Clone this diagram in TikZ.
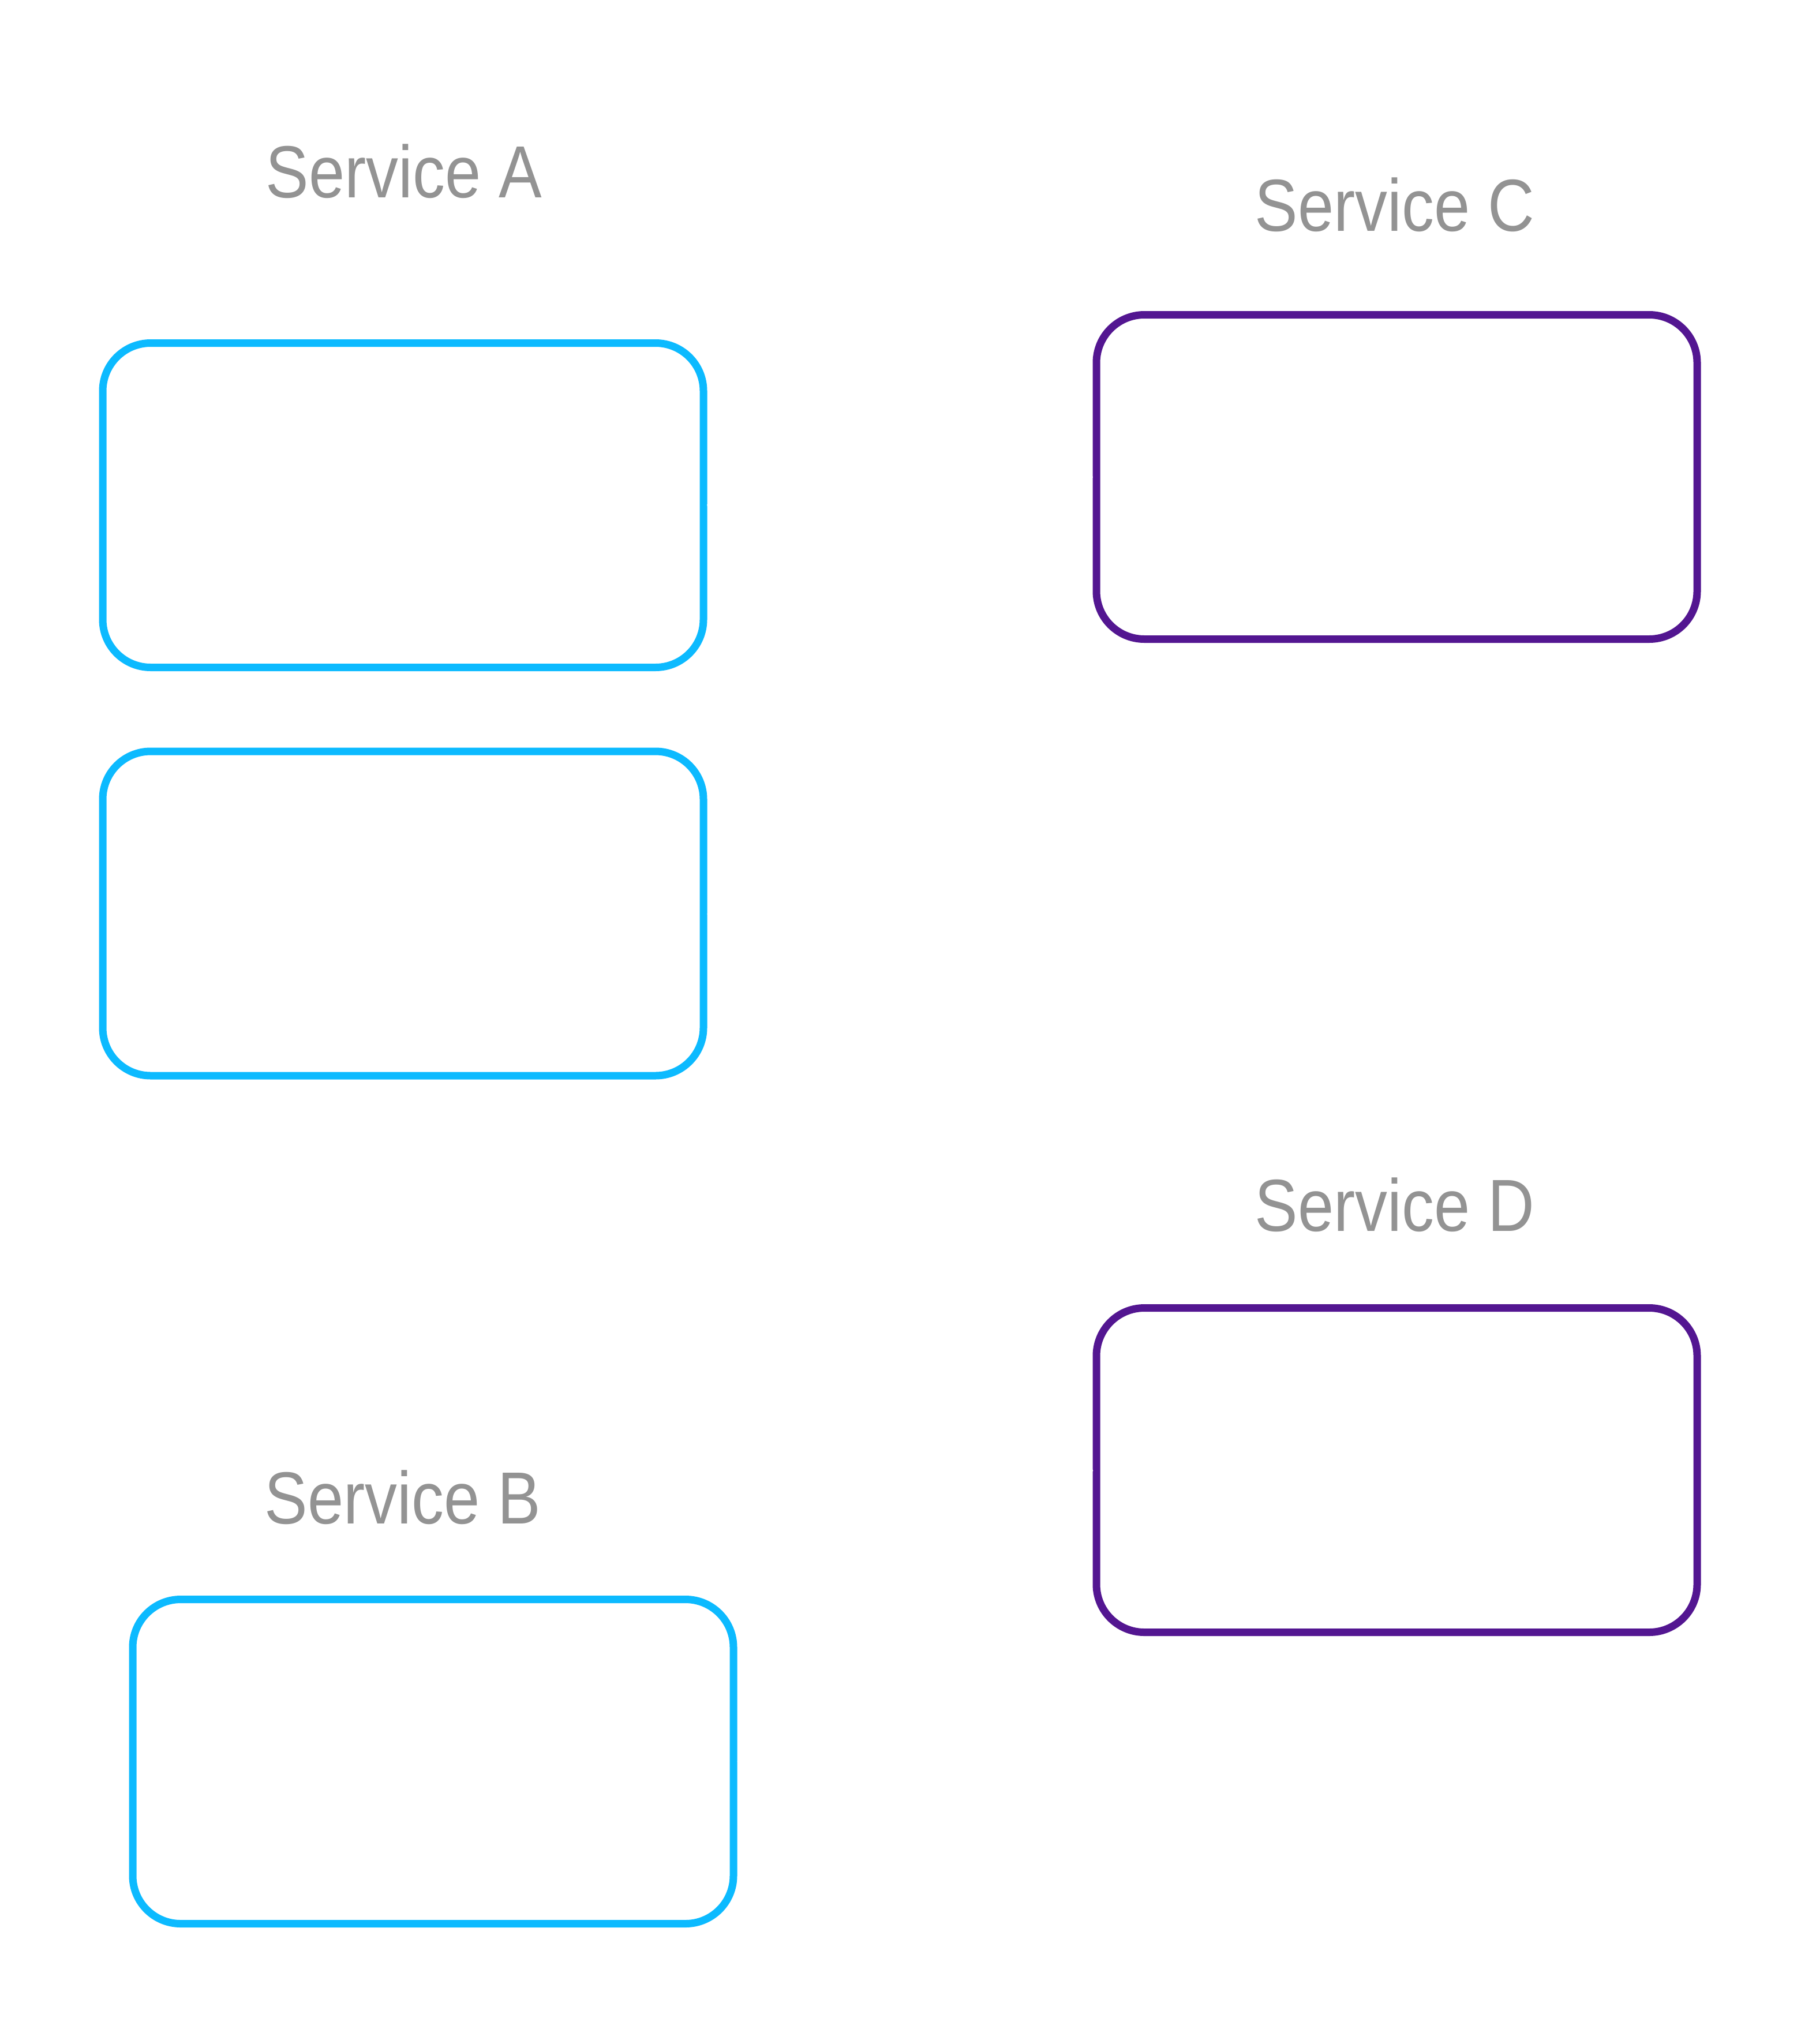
\documentclass[tikz,border=0pt]{standalone}
\usepackage{fontspec}
\setmainfont{Liberation Sans}
\usetikzlibrary{arrows.meta}
\definecolor{svcblue}{RGB}{12,186,255}
\definecolor{svcpurple}{RGB}{83,22,145}
\definecolor{labelgray}{RGB}{147,147,147}
\begin{document}
\begin{tikzpicture}
\tikzset{
  svcbox/.style={draw, line width=0.13cm, rounded corners=0.83cm, minimum width=10.41cm, minimum height=5.62cm, inner sep=0pt, fill=none},
  bluebox/.style={svcbox, draw=svcblue},
  purplebox/.style={svcbox, draw=svcpurple},
  svclabel/.style={text=labelgray, anchor=base, inner sep=0pt, xscale=0.874, font=\fontsize{36.4pt}{40pt}\selectfont},
  hiddenlink/.style={draw=white, line width=0.03cm, -{Stealth[length=0.3cm,width=0.25cm]}},
}
\fill[white] (0,0) rectangle (31.21,-35.42);
\useasboundingbox (0,0) rectangle (31.21,-35.42);

\node[bluebox] (a1) at (6.985,-8.755) {};
\node[bluebox] (a2) at (6.985,-15.83) {};
\node[bluebox] (b) at (7.505,-30.525) {};
\node[purplebox] (c) at (24.205,-8.265) {};
\node[purplebox] (d) at (24.205,-25.475) {};

\node[svclabel] (la) at (7.00,-3.43) {Service A};
\node[svclabel] (lc) at (24.17,-4.00) {Service C};
\node[svclabel] (ld) at (24.17,-21.33) {Service D};
\node[svclabel] (lb) at (6.98,-26.40) {Service B};

\draw[draw=white, line width=0.03cm] (a1.east) -- (c.west);
\draw[hiddenlink, {Stealth[length=0.3cm,width=0.25cm]}-{Stealth[length=0.3cm,width=0.25cm]}] (a2.east) -- (d.west);
\draw[hiddenlink, {Stealth[length=0.3cm,width=0.25cm]}-] (b.east) -- (d.west);
\end{tikzpicture}
\end{document}
